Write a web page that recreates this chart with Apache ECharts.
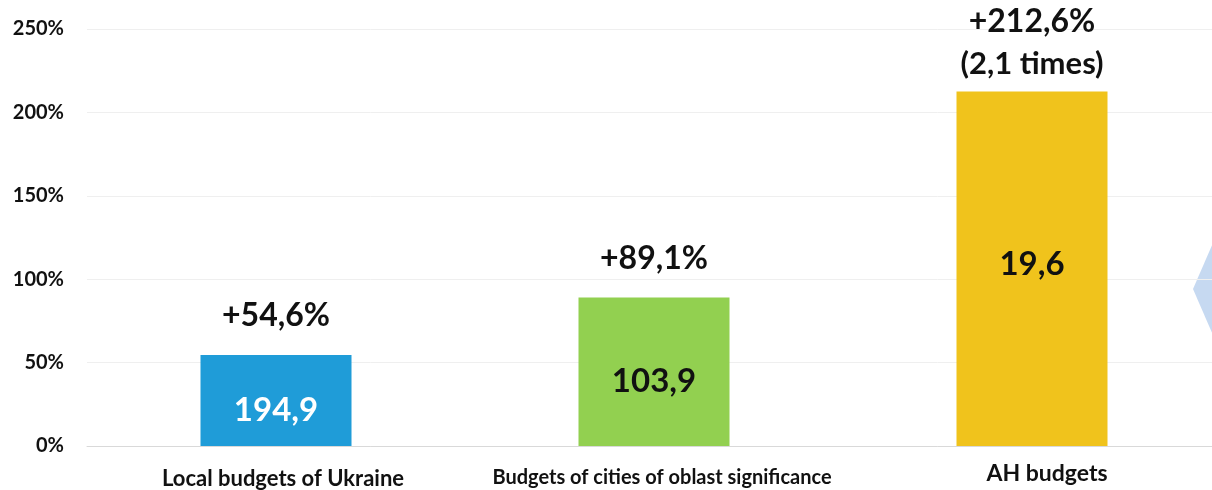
<!DOCTYPE html>
<html>
<head>
<meta charset="utf-8">
<script src="https://cdn.jsdelivr.net/npm/echarts@6/dist/echarts.min.js"></script>
<style>
  html, body { margin: 0; padding: 0; background: #fff; overflow: hidden; }
  /* plot runs a few pixels past the right edge of the window */
  #chart { width: 1221px; height: 490px; }
</style>
</head>
<body>
<div id="chart"></div>
<script>
// -------------------- data --------------------
const categories = ['Local budgets of Ukraine', 'Budgets of cities of oblast significance', 'AH budgets']
const growth = [54.6, 89.1, 212.6]          // growth, %
const amounts = ['194,9', '103,9', '19,6']  // label inside bar
const growthLabels = ['+54,6%', '+89,1%', '+212,6%']
const growthNotes = ['', '', '(2,1 times)']
const yTicks = [0, 50, 100, 150, 200, 250]

// -------------------- styles --------------------
const FONT = 'Lato, "Open Sans", sans-serif'
const W = 'bold'
const barColors = ['#1f9cd8', '#92d050', '#f0c31c']
const amountColors = ['#ffffff', '#111111', '#111111']
const amountOffsets = [10, 10, -4]
const catRich = ['a', 'b', 'c']

const chart = echarts.init(document.getElementById('chart'))

const option = {
  animation: false,
  textStyle: { fontFamily: FONT },
  grid: { left: 87, right: 0, top: 29, bottom: 44 },
  xAxis: {
    type: 'category',
    data: categories,
    axisTick: { show: false },
    axisLine: { lineStyle: { color: '#d9d9d9', width: 1 } },
    axisLabel: {
      interval: 0,
      margin: 16,
      formatter: (v, i) => '{' + catRich[i] + '|' + v + '}',
      rich: {
        a: { fontFamily: FONT, fontWeight: W, fontSize: 22, color: '#111', padding: [6, 0, 0, 14] },
        b: { fontFamily: FONT, fontWeight: W, fontSize: 20, color: '#111', padding: [6, 0, 0, 16] },
        c: { fontFamily: FONT, fontWeight: W, fontSize: 23, color: '#111', padding: [0, 0, 0, 30] }
      }
    }
  },
  yAxis: {
    type: 'value',
    min: yTicks[0],
    max: yTicks[yTicks.length - 1],
    interval: 50,
    axisLine: { show: false },
    axisTick: { show: false },
    splitLine: { lineStyle: { color: '#efefef', width: 1 } },
    axisLabel: {
      margin: 23,
      formatter: '{value}%',
      fontFamily: FONT,
      fontWeight: W,
      fontSize: 20,
      color: '#111'
    }
  },
  series: [
    // bars with amount inside
    {
      type: 'bar',
      barWidth: 151,
      data: growth.map((v, i) => ({
        value: v,
        itemStyle: { color: barColors[i] },
        label: {
          show: true,
          position: 'inside',
          offset: [0, amountOffsets[i]],
          formatter: amounts[i],
          color: amountColors[i],
          fontFamily: FONT,
          fontWeight: W,
          fontSize: 33
        }
      }))
    },
    // transparent overlay carrying the growth labels on top
    {
      type: 'bar',
      barWidth: 151,
      barGap: '-100%',
      silent: true,
      itemStyle: { color: 'rgba(0,0,0,0)' },
      data: growth.map((v, i) => ({
        value: v,
        label: {
          show: true,
          position: 'top',
          distance: growthNotes[i] ? 5 : 18,
          formatter: growthNotes[i]
            ? '{g|' + growthLabels[i] + '}\n{n|' + growthNotes[i] + '}'
            : '{g|' + growthLabels[i] + '}',
          rich: {
            g: { fontFamily: FONT, fontWeight: W, fontSize: 32, color: '#111', lineHeight: 42 },
            n: { fontFamily: FONT, fontWeight: W, fontSize: 31, color: '#111', lineHeight: 44 }
          }
        }
      }))
    }
  ],
  graphic: [
    {
      type: 'polygon',
      silent: true,
      shape: { points: [[1193, 289], [1216, 236], [1216, 342]] },
      style: { fill: '#c6d9f1' }
    }
  ]
}

chart.setOption(option)
</script>
</body>
</html>
